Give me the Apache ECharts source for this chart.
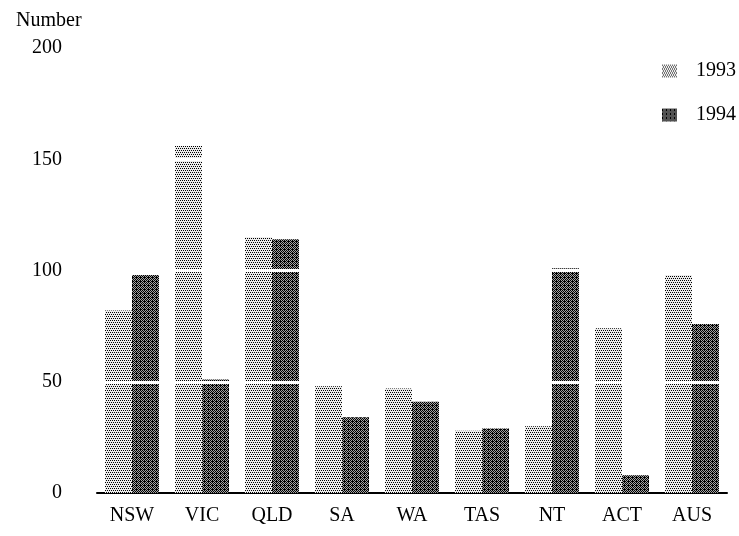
<!DOCTYPE html>
<html>
<head>
<meta charset="utf-8">
<script src="https://cdn.jsdelivr.net/npm/echarts@6/dist/echarts.min.js"></script>
<style>
html,body{margin:0;padding:0;background:#fff;}
#chart{width:739px;height:536px;}
</style>
</head>
<body>
<div id="chart"></div>
<script>
var categories = ['NSW', 'VIC', 'QLD', 'SA', 'WA', 'TAS', 'NT', 'ACT', 'AUS'];
var values1993 = [82, 156, 115, 48, 47, 28, 30, 74, 98];
var values1994 = [98, 51, 114, 34, 41, 29, 101, 8, 76];
var yTicks = [0, 50, 100, 150, 200];

function makePattern(size, blackCells, bg) {
  var c = document.createElement('canvas');
  c.width = size; c.height = size;
  var ctx = c.getContext('2d');
  ctx.fillStyle = bg;
  ctx.fillRect(0, 0, size, size);
  ctx.fillStyle = '#000';
  blackCells.forEach(function (p) { ctx.fillRect(p[0], p[1], 1, 1); });
  return c;
}
var pat93 = makePattern(4, [[0,0],[2,0],[1,2],[3,2]], '#ececec');
var pat94 = makePattern(4, [[0,0],[2,0],[1,1],[3,1],[0,2],[2,2],[1,3],[3,3],[0,1]], '#a4a4a4');

var font = 'Liberation Serif';
var chart = echarts.init(document.getElementById('chart'), null, {renderer: 'canvas'});
chart.setOption({
  animation: false,
  backgroundColor: '#ffffff',
  title: {
    text: 'Number', left: 11, top: 6,
    textStyle: {fontFamily: font, fontSize: 20, fontWeight: 'normal', color: '#000'}
  },
  legend: {
    data: ['1993', '1994'],
    orient: 'vertical', left: 657, top: 56,
    itemWidth: 15, itemHeight: 13, itemGap: 24,
    icon: 'rect',
    textStyle: {fontFamily: font, fontSize: 20, color: '#000', padding: [0, 0, 0, 14]}
  },
  grid: {left: 97, right: 12, top: 48, bottom: 43},
  xAxis: {
    type: 'category', data: categories,
    axisLine: {lineStyle: {color: '#000', width: 2}},
    axisTick: {show: false},
    axisLabel: {fontFamily: font, fontSize: 20, color: '#000', margin: 13}
  },
  yAxis: {
    type: 'value', min: yTicks[0], max: yTicks[yTicks.length - 1], interval: 50,
    axisLine: {show: false}, axisTick: {show: false}, splitLine: {show: false},
    axisLabel: {fontFamily: font, fontSize: 20, color: '#000', margin: 35}
  },
  series: [
    {
      name: '1993', type: 'bar', data: values1993, barWidth: 27, barGap: '0%', z: 2,
      itemStyle: {color: {image: pat93, repeat: 'repeat'}}
    },
    {
      name: '1994', type: 'bar', data: values1994, barWidth: 27, z: 3,
      itemStyle: {color: {image: pat94, repeat: 'repeat'}},
      markLine: {
        silent: true, symbol: 'none', label: {show: false},
        lineStyle: {color: '#ffffff', width: 3, type: 'solid'},
        data: [{yAxis: 50}, {yAxis: 100}, {yAxis: 150}]
      }
    }
  ]
});
</script>
</body>
</html>
